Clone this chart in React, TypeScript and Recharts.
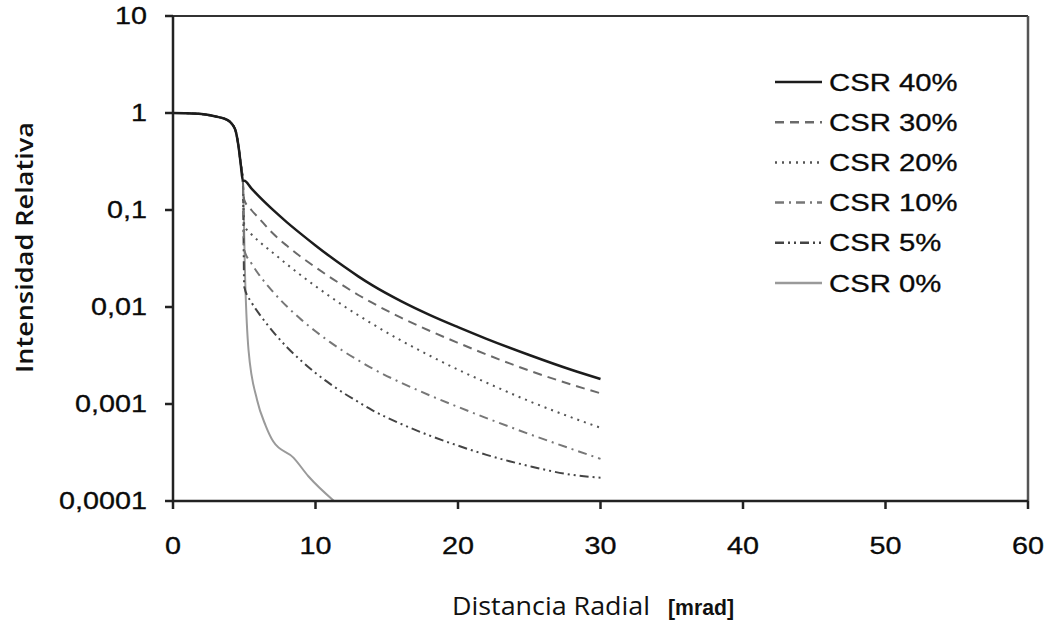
import { LineChart, Line, XAxis, YAxis, ReferenceLine } from 'recharts';

// shared head of every profile (solar disc part)
const headX = [0, 1, 2, 3, 3.8, 4.2, 4.4, 4.6, 4.75, 4.9];
const headY = [1, 0.995, 0.975, 0.92, 0.85, 0.75, 0.65, 0.45, 0.3, 0.2];

const auraX = [5, 5.5, 6, 7, 8, 9, 10, 11, 12, 13, 14, 16, 18, 20, 22, 25, 28, 30];

const csr40Y = [0.2, 0.167, 0.1396, 0.1007, 0.0746, 0.0564, 0.0431, 0.0333, 0.0261, 0.0207, 0.0167, 0.0115, 0.0083, 0.0062, 0.0047, 0.0032, 0.00224, 0.00181];
const csr30Y = [0.127, 0.1, 0.0832, 0.0575, 0.0427, 0.0327, 0.0257, 0.0204, 0.0164, 0.0133, 0.011, 0.00776, 0.00569, 0.00427, 0.00324, 0.00221, 0.00158, 0.00129];
const csr20Y = [0.07, 0.0562, 0.0479, 0.0363, 0.0275, 0.0211, 0.0164, 0.0129, 0.0102, 0.00822, 0.00668, 0.00452, 0.00316, 0.00226, 0.00166, 0.00107, 0.000724, 0.000569];
const csr10Y = [0.0389, 0.0282, 0.0219, 0.01445, 0.0101, 0.00741, 0.00562, 0.00437, 0.00347, 0.00282, 0.00232, 0.00166, 0.00123, 0.000933, 0.000716, 0.00049, 0.000343, 0.000272];
const csr5Y = [0.0162, 0.0112, 0.0087, 0.00562, 0.00385, 0.00279, 0.00209, 0.00162, 0.00129, 0.00105, 0.00086, 0.000624, 0.000473, 0.000372, 0.000299, 0.000229, 0.000186, 0.000174];

const csr0X = [5.07, 5.3, 5.9, 6.5, 7.04, 8.45, 9.5, 11.3];
const csr0Y = [0.018, 0.0036, 0.0011, 0.0006, 0.00041, 0.00028, 0.00018, 0.0001];

const xTicks = [0, 10, 20, 30, 40, 50, 60];
const yTicks = [0.0001, 0.001, 0.01, 0.1, 1, 10];
const yTickLabels = ['0,0001', '0,001', '0,01', '0,1', '1', '10'];

const toPoints = (xs: number[], ys: number[]) => [
  ...headX.map((x, i) => ({ x, y: headY[i] })),
  ...xs.map((x, i) => ({ x, y: ys[i] })),
];

const series = [
  { name: 'CSR 40%', xs: auraX, ys: csr40Y, color: '#1c1c1c', width: 2.5, dash: undefined },
  { name: 'CSR 30%', xs: auraX, ys: csr30Y, color: '#6a6a6a', width: 2, dash: '9 6' },
  { name: 'CSR 20%', xs: auraX, ys: csr20Y, color: '#555555', width: 2, dash: '2 5' },
  { name: 'CSR 10%', xs: auraX, ys: csr10Y, color: '#777777', width: 2, dash: '9 5 2 5' },
  { name: 'CSR 5%', xs: auraX, ys: csr5Y, color: '#444444', width: 2, dash: '9 4 2 4 2 4' },
  { name: 'CSR 0%', xs: csr0X, ys: csr0Y, color: '#9a9a9a', width: 2, dash: undefined },
];

const tickFont = '"Liberation Sans", Arial, sans-serif';

function YTick({ x, y, payload }: any) {
  const i = yTicks.indexOf(payload.value);
  return (
    <text
      transform={`translate(${x},${y}) scale(1.25,1)`}
      textAnchor="end"
      dy="0.36em"
      fontSize={23}
      fontFamily={tickFont}
      fill="#0a0a0a"
      stroke="#0a0a0a"
      strokeWidth={0.3}
    >
      {i >= 0 ? yTickLabels[i] : payload.value}
    </text>
  );
}

function XTick({ x, y, payload }: any) {
  return (
    <text
      transform={`translate(${x},${y}) scale(1.25,1)`}
      textAnchor="middle"
      dy="0.71em"
      fontSize={23}
      fontFamily={tickFont}
      fill="#0a0a0a"
      stroke="#0a0a0a"
      strokeWidth={0.3}
    >
      {payload.value}
    </text>
  );
}

export default function App() {
  const drawOrder = [...series].reverse();
  return (
    <div style={{ position: 'absolute', left: 0, top: 0, width: 1050, height: 622, background: '#fff' }}>
      <LineChart width={1050} height={622} margin={{ top: 16, right: 22, left: 73, bottom: 71 }}>
        <XAxis
          dataKey="x"
          type="number"
          domain={[0, 60]}
          ticks={xTicks}
          tick={<XTick />}
          tickSize={8}
          tickMargin={29}
          height={50}
          stroke="#222"
          strokeWidth={2.5}
          allowDataOverflow
        />
        <YAxis
          dataKey="y"
          scale="log"
          domain={[0.0001, 10]}
          ticks={yTicks}
          tick={<YTick />}
          tickSize={8}
          tickMargin={18}
          width={100}
          stroke="#222"
          strokeWidth={2.5}
          allowDataOverflow
        />
        <ReferenceLine y={10} stroke="#333" strokeWidth={2} />
        <ReferenceLine x={60} stroke="#555" strokeWidth={2.5} />
        {drawOrder.map((s) => (
          <Line
            key={s.name}
            data={toPoints(s.xs, s.ys)}
            dataKey="y"
            name={s.name}
            type="monotone"
            stroke={s.color}
            strokeWidth={s.width}
            strokeDasharray={s.dash}
            dot={false}
            isAnimationActive={false}
          />
        ))}
      </LineChart>
      <svg width={1050} height={622} style={{ position: 'absolute', left: 0, top: 0, pointerEvents: 'none' }}>
        {series.map((s, i) => {
          const cy = 82 + i * 40.2;
          return (
            <g key={s.name}>
              <line x1={775} x2={822} y1={cy} y2={cy} stroke={s.color} strokeWidth={2.5} strokeDasharray={s.dash} />
              <text
                transform={`translate(829,${cy}) scale(1.22,1)`}
                dy="0.36em"
                fontSize={24}
                fontFamily={tickFont}
                fill="#0a0a0a"
                stroke="#0a0a0a"
                strokeWidth={0.3}
              >
                {s.name}
              </text>
            </g>
          );
        })}
        <text
          transform="translate(33,373) rotate(-90)"
          fontSize={24}
          fontWeight={600}
          fontFamily='"Open Sans", sans-serif'
          fill="#111"
          textLength={251}
          lengthAdjust="spacingAndGlyphs"
        >
          Intensidad Relativa
        </text>
        <text
          x={452}
          y={615}
          fontSize={25}
          fontFamily='"Open Sans", sans-serif'
          fill="#111"
          textLength={198}
          lengthAdjust="spacingAndGlyphs"
        >
          Distancia Radial
        </text>
        <text
          x={668}
          y={615}
          fontSize={22}
          fontWeight="bold"
          fontFamily={tickFont}
          fill="#111"
          textLength={66}
          lengthAdjust="spacingAndGlyphs"
        >
          [mrad]
        </text>
      </svg>
    </div>
  );
}
